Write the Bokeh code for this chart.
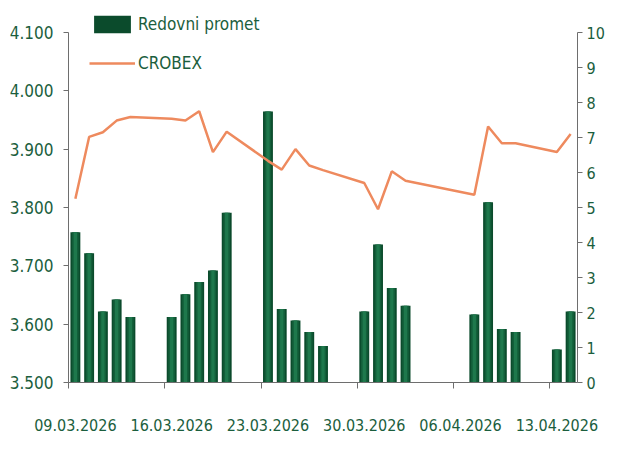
import pandas as pd
from bokeh.plotting import figure
from bokeh.models import (Range1d, LinearAxis, DatetimeAxis, FixedTicker, DatetimeTickFormatter,
                          CustomJSTickFormatter, Legend, LegendItem, ColumnDataSource)
from bokeh.embed import file_html
from bokeh.resources import INLINE

# ---- data ----
days = ["09.03.2026", "10.03.2026", "11.03.2026", "12.03.2026", "13.03.2026",
        "16.03.2026", "17.03.2026", "18.03.2026", "19.03.2026", "20.03.2026",
        "23.03.2026", "24.03.2026", "25.03.2026", "26.03.2026", "27.03.2026",
        "30.03.2026", "31.03.2026", "01.04.2026", "02.04.2026",
        "07.04.2026", "08.04.2026", "09.04.2026", "10.04.2026",
        "13.04.2026", "14.04.2026"]
promet = [4.29, 3.69, 2.03, 2.37, 1.87,
          1.87, 2.52, 2.87, 3.20, 4.85,
          7.74, 2.10, 1.77, 1.44, 1.04,
          2.03, 3.94, 2.70, 2.19,
          1.94, 5.15, 1.53, 1.44,
          0.94, 2.03]
crobex = [3.815, 3.921, 3.929, 3.949, 3.955,
          3.952, 3.949, 3.965, 3.895, 3.930,
          3.880, 3.865, 3.900, 3.872, 3.864,
          3.842, 3.797, 3.862, 3.846,
          3.822, 3.939, 3.910, 3.910,
          3.895, 3.926]
tick_labels = ["09.03.2026", "16.03.2026", "23.03.2026",
               "30.03.2026", "06.04.2026", "13.04.2026"]
x_end_label = "15.04.2026"

FONT = "DejaVu Sans Condensed"
TXT = "#1b5e3d"
AX = "#6e6e6e"
DAY_MS = 86400000

dt = pd.to_datetime(days, format="%d.%m.%Y") + pd.Timedelta(hours=12)
src = ColumnDataSource(dict(x=dt, promet=promet, crobex=crobex))
tick_dt = pd.to_datetime(tick_labels, format="%d.%m.%Y")
ticks = [int(t.value // 10**6) for t in tick_dt]
label_ticks = [t + DAY_MS // 2 for t in ticks]
x0 = tick_dt[0]
x1 = pd.to_datetime(x_end_label, format="%d.%m.%Y")

W, H = 607, 439
FB = 382  # frame height in px (frame starts at top of canvas)
p = figure(width=W, height=H, x_axis_type="datetime", output_backend="svg",
           toolbar_location=None, x_range=Range1d(x0, x1),
           y_range=Range1d(3.5, 3.5 + FB / 583.33),
           min_border_left=68, min_border_right=28, min_border_top=0,
           min_border_bottom=H - FB, y_axis_location=None)
p.outline_line_color = None
p.grid.visible = False
p.background_fill_color = "white"
p.extra_y_ranges = {"vol": Range1d(0, FB / 35.0)}

# bars (layered to imitate the gradient)
b1 = p.vbar(x="x", top="promet", width=0.72 * DAY_MS, source=src, y_range_name="vol",
            fill_color="#0b4b2c", line_color=None)
p.vbar(x="x", top="promet", width=0.48 * DAY_MS, source=src, y_range_name="vol",
       fill_color="#135f3a", line_color=None)
p.vbar(x="x", top="promet", width=0.24 * DAY_MS, source=src, y_range_name="vol",
       fill_color="#1e784c", line_color=None)

l1 = p.line(x="x", y="crobex", source=src, line_color="#ee8a5e", line_width=2.5)

# axes
left = LinearAxis(ticker=FixedTicker(ticks=[3.5, 3.6, 3.7, 3.8, 3.9, 4.0, 4.1]),
                  bounds=(3.5, 4.1))
left.major_label_overrides = {3.5: "3.500", 3.6: "3.600", 3.7: "3.700", 3.8: "3.800",
                              3.9: "3.900", 4.0: "4.000", 4.1: "4.100"}
right = LinearAxis(y_range_name="vol", ticker=FixedTicker(ticks=list(range(0, 11))),
                   bounds=(0, 10))
for ax, fs, so in ((left, "17px", 10), (right, "16px", 4)):
    ax.major_tick_out = 5
    ax.major_tick_in = 0
    ax.minor_tick_out = 0
    ax.minor_tick_in = 0
    ax.axis_line_color = AX
    ax.major_tick_line_color = AX
    ax.major_label_text_font = FONT
    ax.major_label_text_font_size = fs
    ax.major_label_text_color = TXT
    ax.major_label_standoff = so
p.add_layout(left, "left")
p.add_layout(right, "right")

# x axis: tick marks at week starts ...
xa = p.xaxis[0]
xa.ticker = FixedTicker(ticks=ticks)
xa.formatter = CustomJSTickFormatter(code="return ''")
xa.major_tick_out = 6
xa.major_tick_in = 0
xa.minor_tick_out = 0
xa.minor_tick_in = 0
xa.axis_line_color = AX
xa.major_tick_line_color = AX
xa.major_label_text_font_size = "1px"
xa.major_label_standoff = 0

# ... and the date labels centred on the day
xb = DatetimeAxis(ticker=FixedTicker(ticks=label_ticks),
                  formatter=DatetimeTickFormatter(days="%d.%m.%Y", months="%d.%m.%Y",
                                                  hours="%d.%m.%Y", years="%d.%m.%Y"))
xb.axis_line_color = None
xb.major_tick_line_color = None
xb.minor_tick_line_color = None
xb.major_tick_out = 0
xb.major_tick_in = 0
xb.minor_tick_out = 0
xb.minor_tick_in = 0
xb.major_label_text_font = FONT
xb.major_label_text_font_size = "16px"
xb.major_label_text_color = TXT
xb.major_label_standoff = 30
p.add_layout(xb, "below")

legend = Legend(items=[LegendItem(label="Redovni promet", renderers=[b1]),
                       LegendItem(label="CROBEX", renderers=[l1])],
                location=(21, 308), border_line_color=None, background_fill_alpha=0,
                padding=0, margin=0, spacing=17, glyph_width=46, glyph_height=22,
                label_standoff=3, label_text_font=FONT, label_text_font_size="17px",
                label_text_color=TXT)
p.add_layout(legend, "center")

open("out.html", "w").write(file_html(p, INLINE))
